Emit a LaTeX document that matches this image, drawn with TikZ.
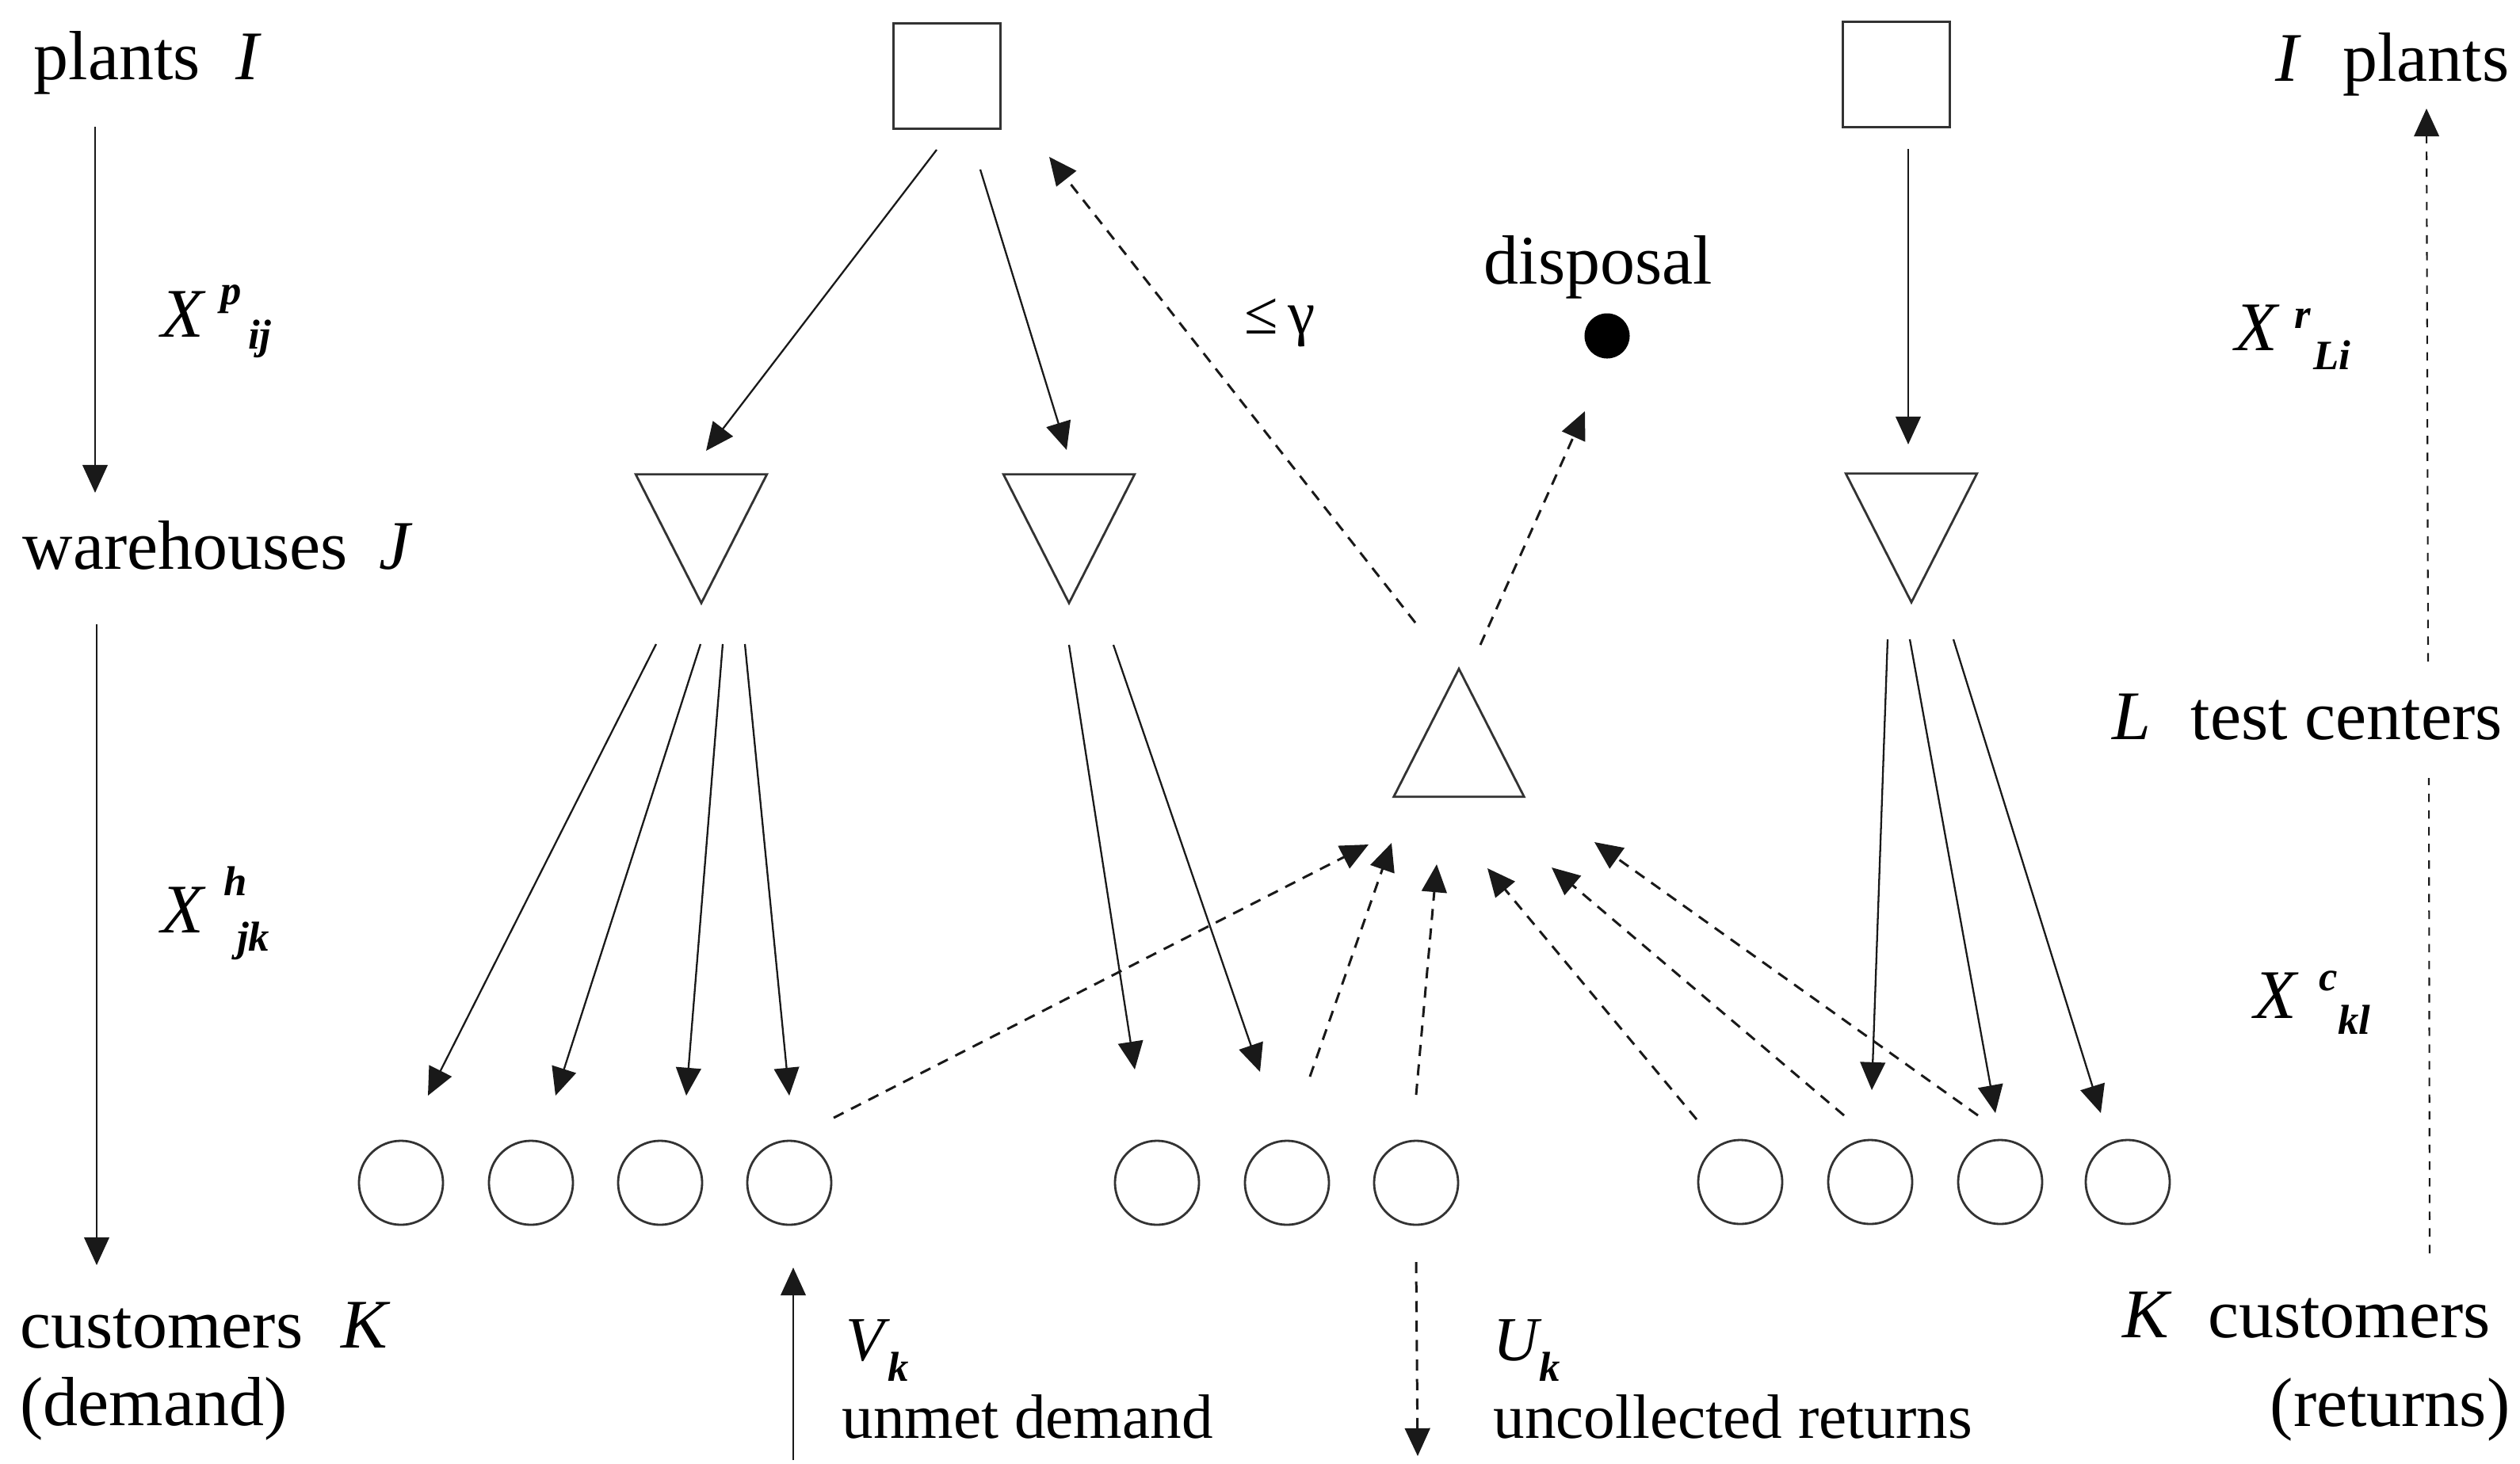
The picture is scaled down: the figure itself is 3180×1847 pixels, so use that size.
\documentclass[tikz,border=0pt]{standalone}
\usepackage{fontspec}
\setmainfont{Liberation Serif}
\usetikzlibrary{arrows.meta,calc}
\newcommand{\subf}{\fontsize{15}{15}\selectfont\bfseries\itshape}
\newcommand{\bigf}{\fontsize{25}{30}\selectfont}
\newcommand{\midf}{\fontsize{22.5}{27}\selectfont}
\begin{document}
\begin{tikzpicture}[x=0.01cm, y=-0.01cm,
  shp/.style={draw=black!80, line width=0.8pt},
  sq/.style={shp, minimum width=1.35cm, minimum height=1.33cm, inner sep=0pt},
  tribox/.style={minimum width=1.64cm, minimum height=1.61cm, inner sep=0pt},
  cust/.style={shp, circle, minimum size=1.06cm, inner sep=0pt},
  arr/.style={draw=black!90, line width=0.65pt, -{Triangle[length=10pt,width=9pt]}},
  dline/.style={draw=black!90, line width=0.85pt, dash pattern=on 4pt off 3pt},
  darr/.style={dline, -{Triangle[length=10pt,width=9pt]}},
  txt/.style={anchor=base west, inner sep=0pt, font=\bigf},
  stxt/.style={anchor=base west, inner sep=0pt, font=\midf}]
\useasboundingbox (0,0) rectangle (3180,1847);

% plants
\node[sq] (p1) at (1195,96) {};
\node[sq] (p2) at (2393,94) {};
% warehouses
\node[tribox] (t1) at (885,680) {};
\node[tribox] (t2) at (1349,680) {};
\node[tribox] (t3) at (2412,679) {};
\foreach \t in {t1,t2,t3}{\draw[shp] (\t.north west) -- (\t.north east) -- (\t.south) -- cycle;}
% test center
\node[tribox, minimum height=1.60cm, minimum width=1.63cm] (tc) at (1841,925) {};
\draw[shp] (tc.south west) -- (tc.south east) -- (tc.north) -- cycle;
% disposal
\node[circle, fill=black, minimum size=0.57cm, inner sep=0pt] (dsp) at (2028,424) {};
% customers
\node[cust] (c1) at (506,1493) {};
\node[cust] (c2) at (670,1493) {};
\node[cust] (c3) at (833,1493) {};
\node[cust] (c4) at (996,1493) {};
\node[cust] (c5) at (1460,1493) {};
\node[cust] (c6) at (1624,1493) {};
\node[cust] (c7) at (1787,1493) {};
\node[cust] (c8) at (2196,1492) {};
\node[cust] (c9) at (2360,1492) {};
\node[cust] (c10) at (2524,1492) {};
\node[cust] (c11) at (2685,1492) {};

% labels
\node[txt] (lplants) at (42,100) {plants\hspace{0.45cm}\textit{I}};
\node[txt] (lware) at (28,718) {warehouses\hspace{0.4cm}\textit{J}};
\node[txt] (lcust) at (25,1701) {customers\hspace{0.48cm}\textit{K}};
\node[txt] (ldem) at (25,1799) {(demand)};
\node[txt] (xp) at (203,425) {\textit{X}\hspace{0.18cm}\rlap{\raisebox{0.40cm}{\subf p}}\hspace{0.35cm}\raisebox{-0.15cm}{\subf ij}};
\node[txt] (xh) at (203,1177) {\textit{X}\hspace{0.22cm}\rlap{\raisebox{0.46cm}{\subf h}}\hspace{0.17cm}\raisebox{-0.23cm}{\subf jk}};
\node[txt] (disp) at (1872,358) {disposal};
\node[inner sep=0pt, font=\fontsize{22}{26}\selectfont] (gam) at (1615,408) {≤\,γ};
\node[txt] (rplants) at (2871,102) {\textit{I}\hspace{0.52cm}plants};
\node[txt] (xr) at (2820,442) {\textit{X}\hspace{0.18cm}\rlap{\raisebox{0.28cm}{\subf r}}\hspace{0.24cm}\raisebox{-0.24cm}{\subf Li}};
\node[txt] (ltest) at (2665,933) {\textit{L}\hspace{0.5cm}test centers};
\node[txt] (xc) at (2844,1285) {\textit{X}\hspace{0.25cm}\rlap{\raisebox{0.35cm}{\subf c}}\hspace{0.24cm}\raisebox{-0.20cm}{\subf kl}};
\node[txt] (rcust) at (2678,1688) {\textit{K}\hspace{0.45cm}customers};
\node[txt] (rret) at (2864,1800) {(returns)};
\node[stxt] (vk) at (1067,1717) {\textit{V}\hspace{-0.03cm}\raisebox{-0.26cm}{\subf k}};
\node[stxt] (unmet) at (1062,1815) {unmet demand};
\node[stxt] (uk) at (1884,1717) {\textit{U}\hspace{-0.04cm}\raisebox{-0.26cm}{\subf k}};
\node[stxt] (uncol) at (1884,1815) {uncollected returns};

% legend arrows
\coordinate (la1) at (120,160); \coordinate (la2) at (120,622);
\coordinate (lb1) at (122,788); \coordinate (lb2) at (122,1597);
\draw[arr] (la1) -- (la2);
\draw[arr] (lb1) -- (lb2);
\coordinate (rb) at (3066,1582); \coordinate (rg1) at (3065,982);
\coordinate (rg2) at (3064,835); \coordinate (rt) at (3062,137);
\draw[dline, line width=0.6pt, dash pattern=on 3pt off 3pt] (rb) -- (rg1);
\draw[darr, line width=0.6pt, dash pattern=on 3pt off 3pt] (rg2) -- (rt);

% plants -> warehouses
\draw[arr] ($(p1)+(-13,93)$) -- ($(t1)+(6,-111)$);
\draw[arr] ($(p1)+(42,118)$) -- ($(t2)+(-3,-112)$);
\draw[arr] ($(p2)+(15,94)$) -- ($(t3)+(-4,-118)$);
% warehouses -> customers
\draw[arr] ($(t1)+(-57,133)$) -- ($(c1)+(34,-110)$);
\draw[arr] ($(t1)+(-1,133)$) -- ($(c2)+(31,-110)$);
\draw[arr] ($(t1)+(27,133)$) -- ($(c3)+(33,-110)$);
\draw[arr] ($(t1)+(55,133)$) -- ($(c4)+(0,-110)$);
\draw[arr] ($(t2)+(0,134)$) -- ($(c5)+(-28,-143)$);
\draw[arr] ($(t2)+(56,134)$) -- ($(c6)+(-34,-140)$);
\draw[arr] ($(t3)+(-30,128)$) -- ($(c9)+(2,-116)$);
\draw[arr] ($(t3)+(-2,128)$) -- ($(c10)+(-6,-87)$);
\draw[arr] ($(t3)+(53,128)$) -- ($(c11)+(-34,-87)$);
% unmet demand
\coordinate (vb) at (1001,1843);
\draw[arr] (vb) -- ($(c4)+(5,107)$);
% returns -> test center
\draw[darr] ($(c4)+(56,-82)$) -- ($(tc)+(-114,141)$);
\draw[darr] ($(c6)+(29,-134)$) -- ($(tc)+(-85,139)$);
\draw[darr] ($(c7)+(0,-111)$) -- ($(tc)+(-28,166)$);
\draw[darr] ($(c8)+(-55,-79)$) -- ($(tc)+(36,171)$);
\draw[darr] ($(c9)+(-33,-84)$) -- ($(tc)+(117,170)$);
\draw[darr] ($(c10)+(-28,-84)$) -- ($(tc)+(171,138)$);
% test center -> plant, disposal
\draw[darr] ($(tc)+(-55,-139)$) -- ($(p1)+(129,102)$);
\draw[darr] ($(tc)+(27,-111)$) -- ($(dsp)+(-28,95)$);
% uncollected returns
\coordinate (ub) at (1789,1838);
\draw[darr] ($(c7)+(0,100)$) -- (ub);
\end{tikzpicture}
\end{document}
